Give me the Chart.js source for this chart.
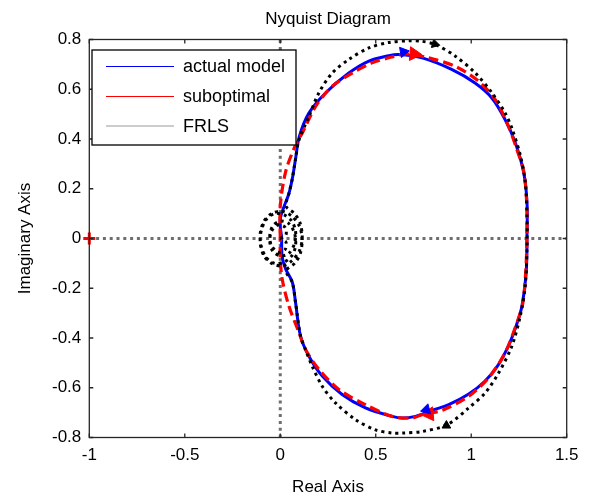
<!DOCTYPE html>
<html>
<head>
<meta charset="utf-8">
<script src="https://cdn.jsdelivr.net/npm/chart.js@4"></script>
<style>
    body { margin: 0; background: #fff; }
    #wrap { position: relative; width: 591px; height: 495px; }
</style>
</head>
<body>
<div id="wrap"><canvas id="nyquist"></canvas></div>
<script>
// Axis ticks
const xTicks = [-1, -0.5, 0, 0.5, 1, 1.5];
const xTickLabels = ['-1', '-0.5', '0', '0.5', '1', '1.5'];
const yTicks = [-0.8, -0.6, -0.4, -0.2, 0, 0.2, 0.4, 0.6, 0.8];
const yTickLabels = ['-0.8', '-0.6', '-0.4', '-0.2', '0', '0.2', '0.4', '0.6', '0.8'];

// Legend entries
const seriesNames = ['actual model', 'suboptimal', 'FRLS'];

// actual model (blue)
const actualRe = [0.007, 0.0, 0.0, 0.019, 0.045, 0.063, 0.08, 0.1, 0.15, 0.237, 0.359, 0.464, 0.568, 0.62, 0.743, 0.90, 1.02, 1.109, 1.178, 1.231, 1.274, 1.292, 1.292, 1.288, 1.266, 1.236, 1.196, 1.14, 1.07, 0.987, 0.882, 0.795, 0.708, 0.638, 0.586, 0.446, 0.324, 0.22, 0.15, 0.106, 0.08, 0.063, 0.028, 0.01, 0.007];
const actualIm = [0.007, 0.047, 0.08, 0.127, 0.18, 0.24, 0.32, 0.41, 0.504, 0.585, 0.665, 0.713, 0.735, 0.74, 0.726, 0.679, 0.625, 0.564, 0.477, 0.385, 0.268, 0.147, 0.006, -0.136, -0.27, -0.35, -0.43, -0.51, -0.575, -0.625, -0.668, -0.691, -0.715, -0.722, -0.715, -0.681, -0.627, -0.553, -0.473, -0.392, -0.257, -0.176, -0.122, -0.074, 0.007];

// suboptimal (red dashed)
const subRe = [0, 0, 0.028, 0.08, 0.115, 0.185, 0.272, 0.377, 0.481, 0.586, 0.664, 0.778, 0.917, 1.039, 1.126, 1.196, 1.24, 1.275, 1.29, 1.292, 1.285, 1.27, 1.24, 1.178, 1.091, 0.987, 0.85, 0.743, 0.69, 0.586, 0.446, 0.307, 0.202, 0.132, 0.098, 0.045, 0.01, 0, 0];
const subIm = [0, 0.13, 0.268, 0.376, 0.423, 0.531, 0.612, 0.665, 0.706, 0.73, 0.742, 0.726, 0.692, 0.632, 0.558, 0.45, 0.356, 0.27, 0.15, 0.0, -0.14, -0.26, -0.338, -0.459, -0.56, -0.634, -0.69, -0.708, -0.722, -0.715, -0.668, -0.607, -0.526, -0.446, -0.378, -0.271, -0.163, -0.082, 0];

// FRLS (black dotted), spiral near origin then the outer loop
const frlsRe = [0.0, 0.03, 0.025, -0.01, -0.045, -0.055, -0.04, 0.0, 0.045, 0.075, 0.08, 0.06, 0.02, -0.03, -0.075, -0.1, -0.105, -0.085, -0.045, 0.01, 0.06, 0.1, 0.115, 0.105, 0.075, 0.03,
    0.045, 0.063, 0.08, 0.098, 0.15, 0.202, 0.272, 0.359, 0.464, 0.568, 0.673, 0.74, 0.812, 0.917, 1.022, 1.109, 1.178, 1.213, 1.257, 1.283, 1.292, 1.292, 1.283, 1.257, 1.213, 1.144, 1.074, 0.987, 0.873, 0.743, 0.638, 0.586, 0.498, 0.394, 0.289, 0.22, 0.167, 0.132, 0.106, 0.08, 0.063, 0.03,
    0.075, 0.105, 0.115, 0.1, 0.06, 0.01, -0.045, -0.085, -0.105, -0.1, -0.075, -0.03, 0.02, 0.06, 0.08, 0.075, 0.045, 0.0, -0.04, -0.055, -0.045, -0.01, 0.025, 0.03, 0.0];
const frlsIm = [0.0, 0.015, 0.045, 0.055, 0.03, -0.01, -0.05, -0.07, -0.06, -0.02, 0.03, 0.07, 0.095, 0.1, 0.075, 0.03, -0.02, -0.07, -0.1, -0.11, -0.09, -0.05, 0.0, 0.06, 0.1, 0.13,
    0.18, 0.24, 0.32, 0.396, 0.49, 0.585, 0.665, 0.72, 0.766, 0.788, 0.795, 0.793, 0.78, 0.733, 0.665, 0.585, 0.504, 0.443, 0.335, 0.228, 0.093, -0.042, -0.19, -0.311, -0.432, -0.54, -0.62, -0.681, -0.749, -0.776, -0.782, -0.782, -0.769, -0.728, -0.661, -0.594, -0.513, -0.446, -0.392, -0.257, -0.176, -0.13,
    -0.1, -0.06, 0.0, 0.05, 0.09, 0.11, 0.1, 0.07, 0.02, -0.03, -0.075, -0.1, -0.095, -0.07, -0.03, 0.02, 0.06, 0.07, 0.05, 0.01, -0.03, -0.055, -0.045, -0.015, 0.0];

// direction arrows: position and heading (degrees, 0 = up)
const arrowBlue = [{ x: 0.645, y: 0.75, rot: 80 }, { x: 0.765, y: -0.688, rot: -105 }];
const arrowRed = [{ x: 0.70, y: 0.742, rot: 95 }, { x: 0.78, y: -0.706, rot: -95 }];
const arrowBlack = [{ x: 0.81, y: 0.782, rot: 105 }, { x: 0.87, y: -0.752, rot: 120 }];

// critical point
const criticalPoint = [{ x: -1, y: 0 }];

// zero lines
const zeroLineH = [{ x: -1, y: 0 }, { x: 1.5, y: 0 }];
const zeroLineV = [{ x: 0, y: -0.8 }, { x: 0, y: 0.8 }];

const toPoints = (re, im) => re.map((r, i) => ({ x: r, y: im[i] }));

const FONT = '"Liberation Sans", Arial, sans-serif';

// Title, axis titles, box with inward ticks and the legend
const matlabFrame = {
    id: 'matlabFrame',
    afterDraw(chart) {
        const ctx = chart.ctx;
        const a = chart.chartArea;
        const xs = chart.scales.x;
        const ys = chart.scales.y;
        ctx.save();

        // box
        ctx.strokeStyle = '#262626';
        ctx.lineWidth = 1.3;
        ctx.strokeRect(a.left, a.top, a.right - a.left, a.bottom - a.top);

        // inward ticks
        const tl = 4;
        ctx.beginPath();
        xTicks.forEach(v => {
            const px = xs.getPixelForValue(v);
            ctx.moveTo(px, a.bottom); ctx.lineTo(px, a.bottom - tl);
            ctx.moveTo(px, a.top); ctx.lineTo(px, a.top + tl);
        });
        yTicks.forEach(v => {
            const py = ys.getPixelForValue(v);
            ctx.moveTo(a.left, py); ctx.lineTo(a.left + tl, py);
            ctx.moveTo(a.right, py); ctx.lineTo(a.right - tl, py);
        });
        ctx.stroke();

        // titles
        const cx = (a.left + a.right) / 2;
        ctx.fillStyle = '#000';
        ctx.font = '17px ' + FONT;
        ctx.textAlign = 'center';
        ctx.textBaseline = 'alphabetic';
        ctx.fillText('Nyquist Diagram', cx, 24);
        ctx.fillText('Real Axis', cx, 492);
        ctx.save();
        ctx.translate(30, (a.top + a.bottom) / 2);
        ctx.rotate(-Math.PI / 2);
        ctx.fillText('Imaginary Axis', 0, 0);
        ctx.restore();

        // legend
        const lx = 92, ly = 50, lw = 204, lh = 95;
        ctx.fillStyle = '#fff';
        ctx.fillRect(lx, ly, lw, lh);
        ctx.strokeStyle = '#000';
        ctx.lineWidth = 1.3;
        ctx.strokeRect(lx, ly, lw, lh);
        const colors = ['#0000ff', '#ff0000', '#999999'];
        const rows = [66.5, 96.5, 126];
        ctx.font = '18px ' + FONT;
        ctx.textAlign = 'left';
        ctx.textBaseline = 'middle';
        seriesNames.forEach((name, i) => {
            ctx.strokeStyle = colors[i];
            ctx.lineWidth = 1.2;
            ctx.beginPath();
            ctx.moveTo(106, rows[i]);
            ctx.lineTo(174, rows[i]);
            ctx.stroke();
            ctx.fillStyle = '#000';
            ctx.fillText(name, 183, rows[i] + 1);
        });
        ctx.restore();
    }
};

const arrowSet = (pts, color, radius) => ({
    type: 'scatter',
    data: pts.map(p => ({ x: p.x, y: p.y })),
    pointStyle: 'triangle',
    rotation: pts.map(p => p.rot),
    pointRadius: radius,
    backgroundColor: color,
    borderColor: color,
    borderWidth: 1,
    showLine: false,
    order: 2
});

new Chart(document.getElementById('nyquist'), {
    type: 'scatter',
    data: {
        datasets: [
            {
                data: zeroLineH, showLine: true, pointRadius: 0,
                borderColor: '#6e6e6e', borderWidth: 3, borderDash: [3, 3.8], order: 10
            },
            {
                data: zeroLineV, showLine: true, pointRadius: 0,
                borderColor: '#6e6e6e', borderWidth: 3, borderDash: [3, 3.8], order: 10
            },
            {
                label: seriesNames[0], data: toPoints(actualRe, actualIm), showLine: true, pointRadius: 0,
                borderColor: '#0000ff', borderWidth: 3, tension: 0.35, order: 6
            },
            {
                label: seriesNames[1], data: toPoints(subRe, subIm), showLine: true, pointRadius: 0,
                borderColor: '#ff0000', borderWidth: 3.2, borderDash: [10, 5], tension: 0.3, order: 5
            },
            {
                label: seriesNames[2], data: toPoints(frlsRe, frlsIm), showLine: true, pointRadius: 0,
                borderColor: '#000000', borderWidth: 3, borderDash: [3, 4], tension: 0.3, order: 4
            },
            arrowSet(arrowBlue, '#0000ff', 6),
            arrowSet(arrowRed, '#ff0000', 8),
            arrowSet(arrowBlack, '#000000', 5),
            {
                data: criticalPoint, pointStyle: 'cross', pointRadius: 6,
                borderColor: '#ff0000', borderWidth: 3, clip: false, order: 1
            }
        ]
    },
    options: {
        responsive: true,
        maintainAspectRatio: false,
        animation: false,
        layout: { padding: { left: 0, top: 39.5, right: 24.3, bottom: 27.5 } },
        plugins: { legend: { display: false }, tooltip: { enabled: false }, title: { display: false } },
        scales: {
            x: {
                type: 'linear', min: -1, max: 1.5,
                afterFit: s => { s.height = 30; },
                afterBuildTicks: s => { s.ticks = xTicks.map(v => ({ value: v })); },
                grid: { display: false, drawTicks: false },
                border: { display: false },
                ticks: {
                    color: '#000', padding: 8, font: { family: FONT, size: 17 },
                    callback: v => xTickLabels[xTicks.indexOf(v)]
                }
            },
            y: {
                type: 'linear', min: -0.8, max: 0.8,
                afterFit: s => { s.width = 89.3; },
                afterBuildTicks: s => { s.ticks = yTicks.map(v => ({ value: v })); },
                grid: { display: false, drawTicks: false },
                border: { display: false },
                ticks: {
                    color: '#000', padding: 8, font: { family: FONT, size: 17 },
                    callback: v => yTickLabels[yTicks.findIndex(t => Math.abs(t - v) < 1e-9)]
                }
            }
        }
    },
    plugins: [matlabFrame]
});
</script>
</body>
</html>
